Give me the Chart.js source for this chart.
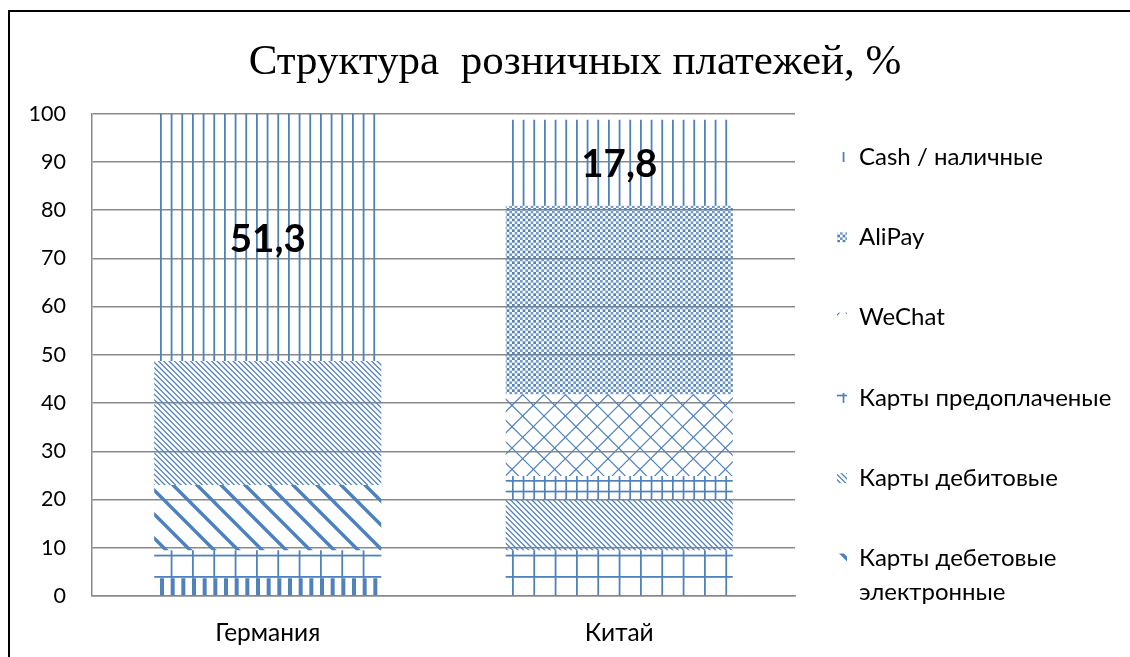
<!DOCTYPE html>
<html lang="ru">
<head>
<meta charset="utf-8">
<title>Структура розничных платежей</title>
<script src="https://cdn.jsdelivr.net/npm/chart.js@4.4.1/dist/chart.umd.min.js"></script>
<style>
  html, body { margin: 0; padding: 0; background: #fff; }
  #wrap { width: 1130px; height: 657px; }
</style>
</head>
<body>
<div id="wrap"><canvas id="paymentsChart" width="1130" height="657"></canvas></div>
<script>
// Категории и значения (%), серии снизу вверх
const countries = ['Германия', 'Китай'];
const otherPayments = [3.7, 0];
const creditCards = [5.8, 9.5];
const debitElectronic = [13.5, 0];
const debitCards = [25.7, 10.4];
const prepaidCards = [0, 5.0];
const wechat = [0, 16.9];
const alipay = [0, 39.1];
const cash = [51.3, 17.8];
const yMax = 100;
const yStep = 10;

// серии, которые видны в легенде (сверху вниз, как в оригинале)
const legendSeries = ['Cash / наличные', 'AliPay', 'WeChat', 'Карты предоплаченые', 'Карты дебитовые', 'Карты дебетовые электронные'];
const labelledSeries = 'Cash / наличные';

const BLUE = '#4F81BD';
const GRID = '#898989';
const FONT = 'Lato';

const canvas = document.getElementById('paymentsChart');
const ctx = canvas.getContext('2d');

// штриховка: рисуем плитку и делаем из неё паттерн
function makePattern(w, h, draw) {
    const c = document.createElement('canvas');
    c.width = w;
    c.height = h;
    const g = c.getContext('2d');
    g.fillStyle = BLUE;
    g.strokeStyle = BLUE;
    draw(g, w, h);
    return ctx.createPattern(c, 'repeat');
}

// диагональные линии с шагом step (по горизонтали), dir = 1 для "\", -1 для "/"
function diagLines(g, size, step, width, dir) {
    g.lineWidth = width;
    g.beginPath();
    for (let k = -size * 2; k <= size * 2; k += step) {
        if (dir > 0) {
            g.moveTo(k - size, -size);
            g.lineTo(k + 2 * size, 2 * size);
        } else {
            g.moveTo(k + 2 * size, -size);
            g.lineTo(k - size, 2 * size);
        }
    }
    g.stroke();
}

const P = 32 / 3;

const patterns = {
    ltVert: makePattern(32, 4, function (g) {
        for (let i = 0; i < 3; i++) g.fillRect(i * P, 0, 1.8, 4);
    }),
    dkVert: makePattern(32, 4, function (g) {
        for (let i = 0; i < 3; i++) g.fillRect(i * P, 0, 4, 4);
    }),
    smGrid: makePattern(32, 32, function (g) {
        for (let i = 0; i < 3; i++) {
            g.fillRect(i * P, 0, 1.7, 32);
            g.fillRect(0, i * P, 32, 1.7);
        }
    }),
    lgGrid: makePattern(64, 64, function (g) {
        for (let i = 0; i < 3; i++) {
            g.fillRect(i * 2 * P, 0, 1.8, 64);
            g.fillRect(0, i * 2 * P, 64, 1.8);
        }
    }),
    ltDnDiag: makePattern(16, 16, function (g, w) {
        diagLines(g, w, 16 / 3, 1.3, 1);
    }),
    wdDnDiag: makePattern(24, 24, function (g, w) {
        diagLines(g, w, 24, 3.4, 1);
    }),
    diamond: makePattern(64, 64, function (g, w) {
        diagLines(g, w, 64 / 3, 1.2, 1);
        diagLines(g, w, 64 / 3, 1.2, -1);
    }),
    checker: makePattern(16, 16, function (g) {
        const s = 16 / 3;
        for (let i = 0; i < 3; i++) {
            for (let j = 0; j < 3; j++) {
                g.fillRect(i * s, j * s, s / 2, s / 2);
                g.globalAlpha = 0.8;
                g.fillRect(i * s + s / 2, j * s + s / 2, s / 2, s / 2);
                g.globalAlpha = 1;
            }
        }
    })
};

const datasets = [
    { label: 'Прочее', data: otherPayments, backgroundColor: patterns.dkVert },
    { label: 'Кредитные карты', data: creditCards, backgroundColor: patterns.lgGrid },
    { label: 'Карты дебетовые электронные', data: debitElectronic, backgroundColor: patterns.wdDnDiag },
    { label: 'Карты дебитовые', data: debitCards, backgroundColor: patterns.ltDnDiag },
    { label: 'Карты предоплаченые', data: prepaidCards, backgroundColor: patterns.smGrid },
    { label: 'WeChat', data: wechat, backgroundColor: patterns.diamond },
    { label: 'AliPay', data: alipay, backgroundColor: patterns.checker },
    { label: 'Cash / наличные', data: cash, backgroundColor: patterns.ltVert }
];

// рамка, подписи значений и легенда справа
const decorPlugin = {
    id: 'decor',
    afterDatasetsDraw: function (chart) {
        const c = chart.ctx;
        chart.data.datasets.forEach(function (ds, i) {
            if (ds.label !== labelledSeries) return;
            chart.getDatasetMeta(i).data.forEach(function (bar, j) {
                c.save();
                c.font = 'bold 38.5px ' + FONT;
                c.fillStyle = '#000';
                c.textAlign = 'center';
                c.textBaseline = 'middle';
                c.fillText(ds.data[j].toFixed(1).replace('.', ','), bar.x, (bar.y + bar.base) / 2 + 2);
                c.restore();
            });
        });
    },
    afterDraw: function (chart) {
        const c = chart.ctx;
        c.save();
        c.fillStyle = '#000';
        c.fillRect(8, 10, 1122, 2);
        c.fillRect(8, 10, 2, 647);

        c.font = '24px ' + FONT;
        c.textBaseline = 'middle';
        c.textAlign = 'left';
        let y = 157;
        legendSeries.forEach(function (name) {
            const ds = chart.data.datasets.find(d => d.label === name);
            // перенос по словам
            const lines = [];
            let cur = '';
            name.split(' ').forEach(function (w) {
                const t = cur ? cur + ' ' + w : w;
                if (cur && c.measureText(t).width > 265) {
                    lines.push(cur);
                    cur = w;
                } else {
                    cur = t;
                }
            });
            lines.push(cur);
            c.fillStyle = ds.backgroundColor;
            c.fillRect(837, y - 5, 10, 10);
            c.fillStyle = '#000';
            lines.forEach(function (l, k) {
                c.fillText(l, 859, y + k * 33.5);
            });
            y += 80.3;
        });
        c.restore();
    }
};

new Chart(ctx, {
    type: 'bar',
    data: {
        labels: countries,
        datasets: datasets
    },
    options: {
        responsive: false,
        animation: false,
        layout: {
            padding: { left: 20, right: 0, top: 0, bottom: 0 }
        },
        datasets: {
            bar: {
                barPercentage: 0.646,
                categoryPercentage: 1.0,
                borderWidth: 0
            }
        },
        scales: {
            x: {
                stacked: true,
                grid: { display: false, drawTicks: false },
                border: { display: true, color: GRID, width: 1.5 },
                ticks: {
                    color: '#000',
                    padding: 22,
                    font: { family: FONT, size: 24.5 }
                },
                afterFit: function (s) { s.height = 61; }
            },
            y: {
                stacked: true,
                min: 0,
                max: yMax,
                grid: { color: GRID, lineWidth: 1.5, drawTicks: false },
                border: { display: true, color: GRID, width: 1.5 },
                ticks: {
                    stepSize: yStep,
                    color: '#000',
                    padding: 26,
                    font: { family: FONT, size: 21.5 }
                },
                afterFit: function (s) { s.width = 72; }
            },
            legendSpace: {
                type: 'linear',
                position: 'right',
                grid: { display: false, drawTicks: false },
                border: { display: false },
                ticks: { display: false },
                afterFit: function (s) { s.width = 335; }
            }
        },
        plugins: {
            legend: { display: false },
            tooltip: { enabled: false },
            title: {
                display: true,
                text: 'Структура  розничных платежей, %',
                color: '#000',
                font: { family: 'Liberation Serif', size: 43, weight: 'normal', lineHeight: 1.2 },
                padding: { top: 37, bottom: 25 }
            }
        }
    },
    plugins: [decorPlugin]
});
</script>
</body>
</html>
